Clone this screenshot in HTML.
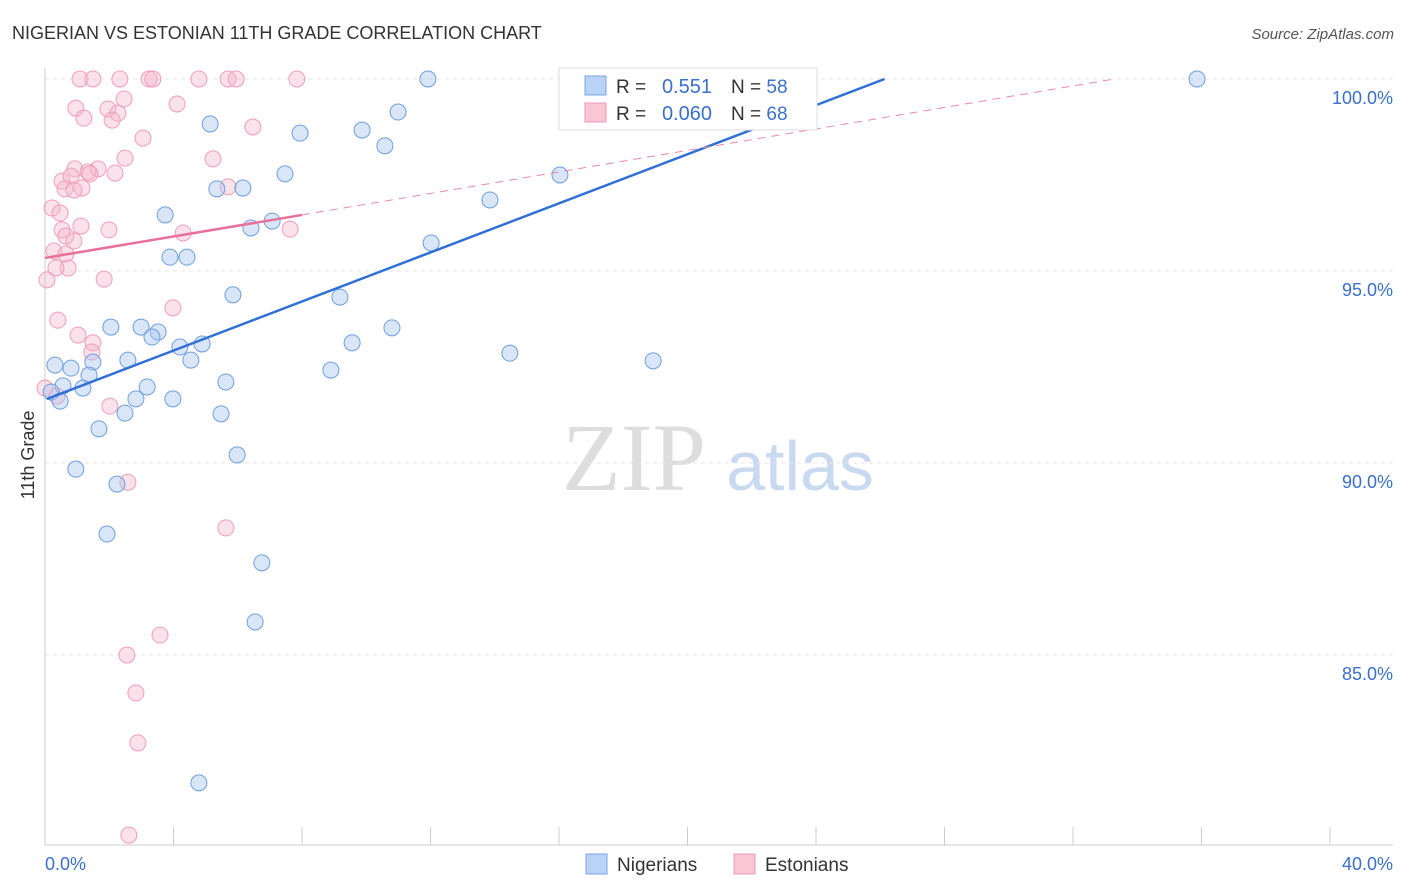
<!DOCTYPE html>
<html><head><meta charset="utf-8"><style>
body{margin:0;background:#fff;width:1406px;height:892px;overflow:hidden;font-family:"Liberation Sans",sans-serif}
</style></head><body>
<svg id="c" width="1406" height="892" style="position:absolute;left:0;top:0">
<text x="12" y="39" font-size="18" fill="#333">NIGERIAN VS ESTONIAN 11TH GRADE CORRELATION CHART</text>
<text x="1394" y="39" font-size="15" fill="#555" font-style="italic" text-anchor="end">Source: ZipAtlas.com</text>
<text x="34" y="455" font-size="18" fill="#333" transform="rotate(-90 34 455)" text-anchor="middle">11th Grade</text>
<text x="634" y="490" font-size="96" fill="#ddd" font-family="Liberation Serif,serif" text-anchor="middle">ZIP</text>
<text x="800" y="490" font-size="70" fill="#c9daf0" text-anchor="middle">atlas</text>
<g id="grid"></g><g id="pts"></g><g id="lines"></g>
<g>
<rect x="559" y="68" width="258" height="62" fill="#fff" stroke="#ddd"/>
<rect x="585" y="76" width="21" height="19" fill="#b8d3f5" stroke="#7aa6e0"/>
<rect x="585" y="103" width="21" height="19" fill="#f8c6d5" stroke="#ee9ab3"/>
<text x="616" y="93" font-size="19" fill="#333">R =</text>
<text x="712" y="93" font-size="20" fill="#3a70c9" text-anchor="end">0.551</text>
<text x="731" y="93" font-size="19" fill="#333">N = <tspan fill="#3a70c9">58</tspan></text>
<text x="616" y="120" font-size="19" fill="#333">R =</text>
<text x="712" y="120" font-size="20" fill="#3a70c9" text-anchor="end">0.060</text>
<text x="731" y="120" font-size="19" fill="#333">N = <tspan fill="#3a70c9">68</tspan></text>
</g>
<g>
<rect x="586" y="854" width="21" height="20" fill="#b8d3f5" stroke="#7aa6e0"/>
<text x="617" y="871" font-size="19" fill="#333">Nigerians</text>
<rect x="734" y="854" width="21" height="20" fill="#f8c6d5" stroke="#ee9ab3"/>
<text x="765" y="871" font-size="19" fill="#333">Estonians</text>
</g>
</svg>
<script>
const xTicks=[0,4,8,12,16,20,24,28,32,36,40];
const yTicks=[100,95,90,85];
const yTickLabels=["100.0%","95.0%","90.0%","85.0%"];
const blueX=[11.92,16.53,18.43,22.91,35.86,5.14,7.94,9.87,10.99,10.58,7.47,16.03,5.35,6.16,13.85,3.74,7.07,6.41,12.02,3.89,4.42,5.85,9.18,2.05,2.99,3.52,3.33,10.80,4.20,4.89,9.56,14.47,18.93,0.31,1.49,2.58,4.54,0.81,8.90,1.37,5.63,0.56,1.18,3.18,0.19,0.47,2.83,3.98,2.49,5.48,1.68,5.98,0.96,2.24,1.93,6.75,6.54,4.79];
const blueY=[100,100,100,100,100,98.83,98.59,98.67,99.14,98.26,97.53,97.50,97.14,97.16,96.85,96.46,96.30,96.12,95.73,95.36,95.36,94.38,94.32,93.54,93.54,93.41,93.28,93.52,93.02,93.10,93.13,92.86,92.66,92.55,92.63,92.68,92.68,92.47,92.42,92.29,92.11,92.01,91.95,91.98,91.85,91.61,91.67,91.67,91.30,91.28,90.89,90.21,89.84,89.45,88.15,87.40,85.86,81.67];
const pinkX=[1.09,1.49,2.33,3.24,3.36,4.79,5.70,5.95,7.84,2.46,0.96,4.11,1.96,2.27,1.21,2.09,6.47,3.05,2.49,5.23,0.93,1.65,1.34,1.40,2.18,0.53,0.81,0.62,1.15,5.70,0.90,0.22,0.47,1.12,1.99,4.30,7.63,0.53,0.65,0.90,0.28,0.65,0.72,0.34,0.06,1.84,3.98,0.40,1.03,1.49,1.46,0,0.37,2.02,2.58,5.63,3.58,2.55,2.83,2.89,2.61];
const pinkY=[100,100,100,100,100,100,100,100,100,99.48,99.24,99.35,99.22,99.11,98.98,98.93,98.75,98.46,97.94,97.92,97.66,97.66,97.58,97.53,97.55,97.34,97.47,97.14,97.16,97.19,97.11,96.64,96.51,96.17,96.07,95.99,96.09,96.07,95.91,95.78,95.52,95.44,95.08,95.08,94.77,94.79,94.04,93.72,93.33,93.13,92.89,91.95,91.74,91.48,89.50,88.31,85.52,85.0,84.01,82.71,80.31];
const blueLine=[91.65,0.3195];
const pinkLine=[95.34,0.14];
const X=v=>45+v*32.125, Y=v=>79+(100-v)*38.4;
const NS="http://www.w3.org/2000/svg";
function mk(t,a,p){const e=document.createElementNS(NS,t);for(const k in a)e.setAttribute(k,a[k]);p.appendChild(e);return e;}
const g=document.getElementById('grid');
const ax=mk('line',{x1:45,y1:68,x2:45,y2:845,stroke:'#ccc'},g);


const bx=mk('line',{x1:45,y1:845,x2:1393,y2:845,stroke:'#ccc'},g);


yTicks.forEach((v,i)=>{
 const l=mk('line',{x1:45,x2:1393,y1:Y(v),y2:Y(v),stroke:'#e6e6e6','stroke-dasharray':'4,4'},g);
 
 
 const t=mk('text',{x:1393,y:Y(v)+25,'font-size':18,fill:'#3a70c9','text-anchor':'end'},g);t.textContent=yTickLabels[i];
 
 
});
xTicks.forEach(v=>{
 const l=mk('line',{x1:X(v),x2:X(v),y1:827,y2:845,stroke:'#ccc'},g);
 
 
});
[[0,'0.0%','start',45],[40,'40.0%','end',1393]].forEach(a=>{
 const t=mk('text',{x:a[3],y:870,'font-size':18,fill:'#3a70c9','text-anchor':a[2]},g);t.textContent=a[1];
 
 
});
const p=document.getElementById('pts');
pinkX.forEach((v,i)=>{
 const c=mk('circle',{cx:X(v),cy:Y(pinkY[i]),r:8,fill:'rgba(246,180,200,0.4)',stroke:'#ef9fb8','stroke-width':1},p);
 
 
});
blueX.forEach((v,i)=>{
 const c=mk('circle',{cx:X(v),cy:Y(blueY[i]),r:8,fill:'rgba(170,200,240,0.45)',stroke:'#6f9ede','stroke-width':1},p);
 
 
});
const L=document.getElementById('lines');
const bxEnd=(100-blueLine[0])/blueLine[1];
const bl=mk('line',{x1:X(0.06),y1:Y(blueLine[0]+blueLine[1]*0.06),x2:X(bxEnd),y2:Y(100),stroke:'#2f6fd6','stroke-width':2.5},L);


const pxEnd=(100-pinkLine[0])/pinkLine[1];
const pd=mk('line',{x1:X(8),y1:Y(pinkLine[0]+pinkLine[1]*8),x2:X(pxEnd),y2:Y(100),stroke:'#e88aa8','stroke-width':1,'stroke-dasharray':'8,6'},L);


const pl=mk('line',{x1:X(0),y1:Y(pinkLine[0]),x2:X(8),y2:Y(pinkLine[0]+pinkLine[1]*8),stroke:'#e8709a','stroke-width':2.5},L);


</script>
</body></html>
